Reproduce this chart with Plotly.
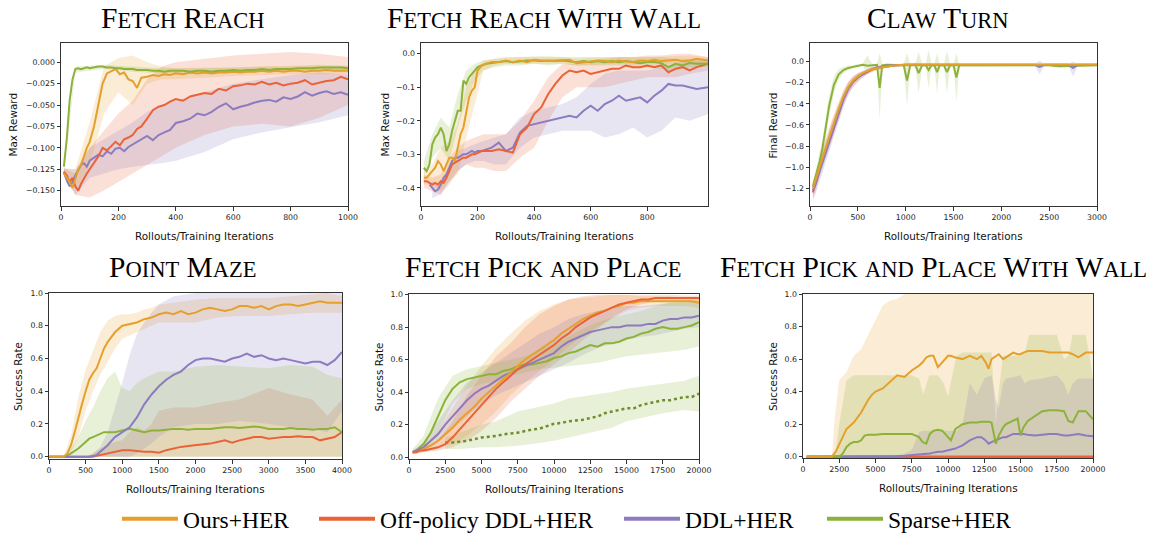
import plotly.graph_objects as go

W, H = 1152, 533
OURS = '#E5A02B'
OFF = '#EB6236'
DDL = '#8D7BBF'
SPARSE = '#8CB23A'
DOTC = '#6E8E2E'

def rgba(hexc, a):
    h = hexc.lstrip('#')
    r, g, b = int(h[0:2], 16), int(h[2:4], 16), int(h[4:6], 16)
    return f'rgba({r},{g},{b},{a})'

# ---------------- titles / labels ----------------
titles = ["Fetch Reach", "Fetch Reach With Wall", "Claw Turn",
          "Point Maze", "Fetch Pick and Place", "Fetch Pick and Place With Wall"]
ylabels = ["Max Reward", "Max Reward", "Final Reward",
           "Success Rate", "Success Rate", "Success Rate"]
xlabel = "Rollouts/Training Iterations"
series_names = ["Ours+HER", "Off-policy DDL+HER", "DDL+HER", "Sparse+HER"]

# ---------------- 1: Fetch Reach ----------------
fr_x = [10, 20, 30, 40, 50, 60, 70, 80, 90, 100, 115, 130, 145, 160, 175, 190, 205, 220, 235, 250, 265, 280,
        300, 320, 340, 360, 380, 400, 425, 450, 475, 500, 525, 550, 575, 600, 625, 650, 675, 700, 725, 750,
        775, 800, 825, 850, 875, 900, 925, 950, 975, 1000]
fr_sparse = [-0.122, -0.090, -0.045, -0.020, -0.008, -0.007, -0.008, -0.007, -0.006, -0.007, -0.006, -0.005,
             -0.005, -0.006, -0.006, -0.007, -0.007, -0.008, -0.008, -0.008, -0.009, -0.009, -0.009, -0.010,
             -0.010, -0.011, -0.010, -0.010, -0.010, -0.011, -0.010, -0.010, -0.011, -0.010, -0.010, -0.009,
             -0.010, -0.009, -0.009, -0.008, -0.009, -0.008, -0.008, -0.008, -0.007, -0.007, -0.007, -0.006,
             -0.006, -0.006, -0.006, -0.007]
fr_ours = [-0.130, -0.135, -0.140, -0.147, -0.135, -0.125, -0.120, -0.110, -0.100, -0.093, -0.075, -0.050,
           -0.025, -0.013, -0.010, -0.008, -0.014, -0.012, -0.020, -0.022, -0.030, -0.018, -0.017, -0.015,
           -0.016, -0.014, -0.015, -0.013, -0.014, -0.012, -0.013, -0.012, -0.013, -0.012, -0.012, -0.011,
           -0.012, -0.011, -0.011, -0.010, -0.011, -0.010, -0.011, -0.010, -0.010, -0.011, -0.010, -0.010,
           -0.009, -0.010, -0.010, -0.010]
fr_off = [-0.128, -0.132, -0.140, -0.135, -0.145, -0.150, -0.142, -0.135, -0.130, -0.125, -0.118, -0.110,
          -0.100, -0.103, -0.098, -0.093, -0.097, -0.090, -0.088, -0.085, -0.078, -0.075, -0.066, -0.056,
          -0.052, -0.050, -0.046, -0.043, -0.045, -0.040, -0.038, -0.036, -0.037, -0.031, -0.033, -0.028,
          -0.027, -0.025, -0.026, -0.023, -0.026, -0.024, -0.027, -0.025, -0.024, -0.021, -0.026, -0.024,
          -0.022, -0.021, -0.017, -0.020]
fr_ddl = [-0.128, -0.138, -0.145, -0.140, -0.132, -0.125, -0.120, -0.118, -0.122, -0.115, -0.112, -0.108,
          -0.110, -0.104, -0.107, -0.101, -0.100, -0.104, -0.099, -0.096, -0.093, -0.090, -0.086, -0.091,
          -0.085, -0.082, -0.079, -0.071, -0.069, -0.066, -0.060, -0.062, -0.058, -0.052, -0.048, -0.055,
          -0.052, -0.050, -0.047, -0.045, -0.044, -0.046, -0.041, -0.043, -0.040, -0.035, -0.039, -0.036,
          -0.034, -0.037, -0.035, -0.038]
fr_bx = [10, 50, 100, 150, 200, 250, 300, 350, 400, 500, 600, 700, 800, 900, 1000]
fr_sparse_lo = [-0.130, -0.012, -0.010, -0.008, -0.009, -0.011, -0.012, -0.013, -0.013, -0.013, -0.012, -0.011, -0.010, -0.009, -0.009]
fr_sparse_hi = [-0.115, -0.005, -0.004, -0.003, -0.004, -0.005, -0.006, -0.007, -0.007, -0.007, -0.006, -0.005, -0.005, -0.004, -0.004]
fr_ours_lo = [-0.135, -0.150, -0.120, -0.060, -0.035, -0.050, -0.025, -0.020, -0.020, -0.018, -0.016, -0.015, -0.014, -0.014, -0.014]
fr_ours_hi = [-0.125, -0.125, -0.070, -0.005, 0.005, 0.008, 0.000, -0.005, -0.007, -0.006, -0.006, -0.005, -0.004, -0.003, -0.004]
fr_off_lo = [-0.132, -0.155, -0.158, -0.150, -0.140, -0.130, -0.120, -0.110, -0.100, -0.085, -0.075, -0.072, -0.075, -0.065, -0.050]
fr_off_hi = [-0.124, -0.130, -0.100, -0.080, -0.060, -0.045, -0.020, -0.005, 0.000, 0.004, 0.008, 0.010, 0.012, 0.010, 0.006]
fr_ddl_lo = [-0.132, -0.155, -0.135, -0.130, -0.125, -0.122, -0.120, -0.118, -0.115, -0.105, -0.090, -0.082, -0.076, -0.070, -0.062]
fr_ddl_hi = [-0.124, -0.125, -0.100, -0.090, -0.080, -0.070, -0.058, -0.050, -0.045, -0.035, -0.025, -0.020, -0.015, -0.012, -0.015]

# ---------------- 2: Fetch Reach With Wall ----------------
frw_x = [10, 20, 30, 40, 50, 60, 70, 80, 90, 100, 110, 120, 130, 140, 150, 160, 170, 180, 190, 200, 215, 230,
         250, 275, 300, 325, 350, 375, 400, 425, 450, 475, 500, 525, 550, 575, 600, 625, 650, 675, 700, 725,
         750, 775, 800, 825, 850, 875, 900, 925, 950, 975, 1015]
frw_ours = [-0.37, -0.37, -0.36, -0.35, -0.34, -0.32, -0.33, -0.35, -0.33, -0.31, -0.31, -0.32, -0.28, -0.24,
            -0.22, -0.17, -0.13, -0.11, -0.10, -0.05, -0.035, -0.03, -0.025, -0.025, -0.02, -0.025, -0.02,
            -0.025, -0.018, -0.02, -0.022, -0.02, -0.02, -0.018, -0.028, -0.025, -0.022, -0.02, -0.022, -0.025,
            -0.02, -0.022, -0.025, -0.02, -0.022, -0.018, -0.022, -0.02, -0.018, -0.022, -0.02, -0.015, -0.02]
frw_sparse = [-0.34, -0.35, -0.33, -0.27, -0.25, -0.24, -0.22, -0.24, -0.29, -0.27, -0.23, -0.20, -0.17, -0.17,
              -0.08, -0.09, -0.07, -0.06, -0.05, -0.04, -0.035, -0.03, -0.028, -0.025, -0.022, -0.025, -0.022,
              -0.02, -0.02, -0.022, -0.02, -0.022, -0.02, -0.022, -0.025, -0.022, -0.025, -0.022, -0.025,
              -0.022, -0.025, -0.022, -0.025, -0.028, -0.025, -0.025, -0.028, -0.04, -0.03, -0.035, -0.028,
              -0.03, -0.03]
frw_off = [-0.38, -0.38, -0.385, -0.39, -0.385, -0.39, -0.38, -0.385, -0.37, -0.35, -0.33, -0.325, -0.32,
           -0.315, -0.31, -0.31, -0.305, -0.30, -0.30, -0.295, -0.29, -0.29, -0.29, -0.285, -0.29, -0.295,
           -0.24, -0.22, -0.18, -0.16, -0.12, -0.09, -0.065, -0.05, -0.055, -0.05, -0.06, -0.055, -0.05,
           -0.045, -0.045, -0.035, -0.04, -0.04, -0.035, -0.04, -0.035, -0.055, -0.045, -0.04, -0.05, -0.04,
           -0.03]
frw_ddl = [None, None, -0.39, -0.40, -0.41, -0.405, -0.39, -0.37, -0.36, -0.34, -0.32, -0.31, -0.31, -0.305,
           -0.30, -0.30, -0.295, -0.29, -0.295, -0.29, -0.29, -0.285, -0.28, -0.265, -0.29, -0.28, -0.235,
           -0.215, -0.21, -0.205, -0.20, -0.195, -0.19, -0.185, -0.19, -0.17, -0.155, -0.17, -0.15, -0.14,
           -0.125, -0.14, -0.135, -0.13, -0.145, -0.125, -0.11, -0.09, -0.095, -0.095, -0.10, -0.105, -0.10]
frw_bx = [10, 40, 70, 100, 130, 160, 190, 220, 260, 300, 350, 400, 450, 500, 550, 600, 650, 700, 750, 800,
          850, 900, 950, 1015]
frw_sparse_lo = [-0.36, -0.31, -0.28, -0.32, -0.22, -0.14, -0.08, -0.05, -0.04, -0.035, -0.035, -0.03, -0.035,
                 -0.03, -0.035, -0.035, -0.035, -0.035, -0.04, -0.04, -0.045, -0.05, -0.04, -0.04]
frw_sparse_hi = [-0.32, -0.24, -0.19, -0.22, -0.12, -0.05, -0.03, -0.02, -0.015, -0.01, -0.01, -0.008, -0.008,
                 -0.01, -0.01, -0.012, -0.012, -0.012, -0.012, -0.012, -0.01, -0.015, -0.015, -0.015]
frw_ours_lo = [-0.39, -0.39, -0.41, -0.38, -0.36, -0.25, -0.15, -0.05, -0.035, -0.03, -0.03, -0.028, -0.03,
               -0.03, -0.035, -0.032, -0.032, -0.03, -0.032, -0.03, -0.03, -0.03, -0.028, -0.03]
frw_ours_hi = [-0.35, -0.33, -0.28, -0.26, -0.21, -0.10, -0.05, -0.02, -0.015, -0.012, -0.01, -0.008, -0.01,
               -0.01, -0.015, -0.012, -0.012, -0.01, -0.012, -0.01, -0.01, -0.008, -0.005, -0.01]
frw_off_lo = [-0.40, -0.41, -0.42, -0.39, -0.35, -0.33, -0.34, -0.34, -0.35, -0.35, -0.31, -0.28, -0.20, -0.13,
              -0.10, -0.10, -0.10, -0.09, -0.08, -0.07, -0.07, -0.07, -0.06, -0.05]
frw_off_hi = [-0.36, -0.37, -0.36, -0.31, -0.28, -0.26, -0.25, -0.24, -0.24, -0.24, -0.20, -0.14, -0.07, -0.03,
              -0.03, -0.02, -0.015, -0.01, -0.01, -0.005, -0.005, 0.0, 0.0, -0.01]
frw_ddl_bx = [40, 70, 100, 130, 160, 190, 220, 260, 300, 350, 400, 450, 500, 550, 600, 650, 700, 750, 800,
              850, 900, 950, 1015]
frw_ddl_lo = [-0.43, -0.42, -0.38, -0.35, -0.33, -0.32, -0.32, -0.33, -0.33, -0.28, -0.25, -0.24, -0.23, -0.23,
              -0.23, -0.25, -0.24, -0.22, -0.25, -0.23, -0.19, -0.20, -0.18]
frw_ddl_hi = [-0.38, -0.39, -0.33, -0.29, -0.28, -0.27, -0.26, -0.25, -0.24, -0.19, -0.17, -0.16, -0.15, -0.13,
              -0.09, -0.06, -0.05, -0.05, -0.05, -0.04, -0.03, -0.02, -0.02]

# ---------------- 3: Claw Turn ----------------
ct_x = [30, 60, 100, 150, 200, 250, 300, 350, 400, 450, 500, 550, 600, 650, 700, 800, 900, 1000, 1200, 1400,
        1600, 1800, 2000, 2200, 2350, 2400, 2450, 2600, 2700, 2750, 2800, 3000]
ct_ours = [-1.20, -1.12, -1.00, -0.86, -0.72, -0.58, -0.45, -0.33, -0.24, -0.18, -0.14, -0.11, -0.09, -0.07,
           -0.06, -0.045, -0.035, -0.03, -0.03, -0.03, -0.03, -0.03, -0.03, -0.03, -0.03, -0.03, -0.03, -0.03,
           -0.03, -0.03, -0.03, -0.03]
ct_off = [-1.24, -1.14, -1.02, -0.87, -0.73, -0.60, -0.47, -0.35, -0.25, -0.19, -0.15, -0.12, -0.095, -0.075,
          -0.06, -0.045, -0.035, -0.03, -0.03, -0.03, -0.03, -0.03, -0.03, -0.03, -0.03, -0.03, -0.03, -0.03,
          -0.03, -0.03, -0.03, -0.03]
ct_ddl = [-1.22, -1.16, -1.04, -0.90, -0.76, -0.62, -0.49, -0.36, -0.26, -0.19, -0.15, -0.12, -0.095, -0.07,
          -0.055, -0.04, -0.035, -0.03, -0.03, -0.03, -0.03, -0.03, -0.03, -0.03, -0.03, -0.05, -0.03, -0.03,
          -0.03, -0.06, -0.03, -0.03]
ct_ours_lo = [-1.26, -1.18, -1.07, -0.94, -0.80, -0.66, -0.52, -0.39, -0.29, -0.22, -0.17, -0.13, -0.11, -0.09,
              -0.075, -0.055, -0.045, -0.04, -0.04, -0.04, -0.04, -0.04, -0.04, -0.04, -0.04, -0.04, -0.04,
              -0.04, -0.04, -0.04, -0.04, -0.04]
ct_ours_hi = [-1.14, -1.06, -0.93, -0.78, -0.64, -0.50, -0.38, -0.27, -0.19, -0.14, -0.11, -0.09, -0.07, -0.055,
              -0.045, -0.035, -0.028, -0.022, -0.022, -0.022, -0.022, -0.022, -0.022, -0.022, -0.022, -0.022,
              -0.022, -0.022, -0.022, -0.022, -0.022, -0.022]
ct_off_lo = [-1.32, -1.22, -1.10, -0.96, -0.82, -0.68, -0.55, -0.42, -0.31, -0.24, -0.19, -0.15, -0.12, -0.10,
             -0.08, -0.06, -0.045, -0.04, -0.04, -0.04, -0.04, -0.04, -0.04, -0.04, -0.04, -0.04, -0.04, -0.04,
             -0.04, -0.04, -0.04, -0.04]
ct_off_hi = [-1.16, -1.06, -0.94, -0.78, -0.63, -0.50, -0.39, -0.28, -0.19, -0.14, -0.11, -0.09, -0.07, -0.055,
             -0.045, -0.035, -0.028, -0.022, -0.022, -0.022, -0.022, -0.022, -0.022, -0.022, -0.022, -0.022,
             -0.022, -0.022, -0.022, -0.022, -0.022, -0.022]
ct_ddl_lo = [-1.30, -1.25, -1.14, -1.00, -0.86, -0.71, -0.57, -0.43, -0.32, -0.24, -0.19, -0.15, -0.12, -0.09,
             -0.07, -0.05, -0.045, -0.04, -0.04, -0.04, -0.04, -0.04, -0.04, -0.04, -0.04, -0.12, -0.04, -0.04,
             -0.04, -0.14, -0.04, -0.04]
ct_ddl_hi = [-1.14, -1.07, -0.95, -0.80, -0.66, -0.53, -0.41, -0.29, -0.20, -0.14, -0.11, -0.09, -0.07, -0.05,
             -0.04, -0.03, -0.025, -0.022, -0.022, -0.022, -0.022, -0.022, -0.022, -0.022, -0.022, 0.01, -0.022,
             -0.022, -0.022, 0.0, -0.022, -0.022]
ct_gx = [30, 60, 100, 130, 160, 200, 250, 300, 350, 400, 450, 500, 550, 600, 650, 700, 728, 756, 800, 900,
         980, 1014, 1048, 1100, 1136, 1172, 1210, 1240, 1270, 1300, 1328, 1356, 1400, 1432, 1464, 1500, 1530,
         1560, 1700, 2000, 2500, 2600, 3000]
ct_sparse = [-1.18, -1.08, -0.95, -0.82, -0.66, -0.42, -0.22, -0.12, -0.08, -0.06, -0.05, -0.04, -0.03, -0.04,
             -0.035, -0.03, -0.25, -0.035, -0.03, -0.035, -0.035, -0.18, -0.035, -0.03, -0.11, -0.035, -0.035,
             -0.08, -0.035, -0.035, -0.10, -0.035, -0.035, -0.10, -0.035, -0.035, -0.15, -0.035, -0.035, -0.035,
             -0.035, -0.045, -0.035]
ct_sparse_lo = [-1.22, -1.14, -1.02, -0.90, -0.76, -0.52, -0.30, -0.17, -0.11, -0.08, -0.065, -0.055, -0.045,
                -0.10, -0.05, -0.045, -0.55, -0.05, -0.045, -0.05, -0.05, -0.42, -0.05, -0.045, -0.30, -0.05,
                -0.05, -0.25, -0.05, -0.05, -0.30, -0.05, -0.05, -0.30, -0.05, -0.05, -0.38, -0.05, -0.045,
                -0.045, -0.045, -0.055, -0.045]
ct_sparse_hi = [-1.14, -1.02, -0.88, -0.74, -0.56, -0.32, -0.14, -0.07, -0.05, -0.04, -0.035, -0.025, -0.02,
                0.06, -0.02, -0.02, 0.08, -0.02, -0.02, -0.02, -0.02, 0.08, -0.02, -0.02, 0.09, -0.02, -0.02,
                0.11, -0.02, -0.02, 0.08, -0.02, -0.02, 0.10, -0.02, -0.02, 0.08, -0.02, -0.025, -0.025, -0.025,
                -0.035, -0.025]

# ---------------- 4: Point Maze ----------------
pm_x = [0, 100, 200, 250, 300, 350, 400, 450, 500, 550, 600, 650, 700, 750, 800, 900, 1000, 1100, 1200, 1300,
        1400, 1500, 1600, 1700, 1800, 1900, 2000, 2100, 2200, 2300, 2400, 2500, 2600, 2700, 2800, 2900, 3000,
        3100, 3200, 3300, 3400, 3500, 3600, 3700, 3800, 3900, 4000]
pm_ours = [0, 0, 0, 0.02, 0.07, 0.15, 0.24, 0.32, 0.40, 0.47, 0.51, 0.54, 0.60, 0.66, 0.70, 0.76, 0.80, 0.81,
           0.82, 0.84, 0.85, 0.87, 0.88, 0.87, 0.89, 0.87, 0.88, 0.90, 0.91, 0.90, 0.89, 0.90, 0.92, 0.92, 0.91,
           0.92, 0.90, 0.92, 0.93, 0.93, 0.92, 0.93, 0.94, 0.95, 0.94, 0.94, 0.94]
pm_ddl = [0, 0, 0, 0, 0, 0, 0, 0, 0, 0, 0.005, 0.01, 0.03, 0.05, 0.07, 0.12, 0.15, 0.18, 0.24, 0.32, 0.38, 0.43,
          0.47, 0.50, 0.52, 0.56, 0.59, 0.60, 0.60, 0.59, 0.58, 0.60, 0.61, 0.63, 0.61, 0.62, 0.60, 0.59, 0.60,
          0.59, 0.58, 0.57, 0.58, 0.58, 0.56, 0.59, 0.64]
pm_sparse = [0, 0, 0, 0.005, 0.02, 0.03, 0.05, 0.07, 0.09, 0.11, 0.12, 0.13, 0.14, 0.15, 0.15, 0.15, 0.16,
             0.17, 0.16, 0.15, 0.16, 0.16, 0.165, 0.17, 0.17, 0.165, 0.17, 0.17, 0.17, 0.175, 0.18, 0.18, 0.175,
             0.18, 0.185, 0.18, 0.17, 0.17, 0.17, 0.175, 0.17, 0.17, 0.165, 0.17, 0.17, 0.18, 0.15]
pm_off = [0, 0, 0, 0, 0, 0, 0, 0, 0, 0, 0, 0.005, 0.01, 0.015, 0.02, 0.03, 0.04, 0.04, 0.035, 0.03, 0.03, 0.025,
          0.04, 0.05, 0.06, 0.065, 0.07, 0.075, 0.08, 0.09, 0.10, 0.085, 0.10, 0.11, 0.12, 0.12, 0.11, 0.115,
          0.12, 0.12, 0.125, 0.12, 0.12, 0.10, 0.11, 0.12, 0.15]
pm_bx = [0, 200, 300, 400, 500, 600, 700, 800, 900, 1000, 1100, 1200, 1300, 1400, 1500, 1700, 2000, 2300,
         2600, 3000, 3300, 3600, 3800, 4000]
pm_ours_lo = [0, 0, 0.02, 0.12, 0.28, 0.40, 0.50, 0.58, 0.66, 0.72, 0.74, 0.76, 0.78, 0.80, 0.82, 0.82, 0.82,
              0.85, 0.86, 0.86, 0.87, 0.88, 0.88, 0.88]
pm_ours_hi = [0, 0, 0.13, 0.36, 0.53, 0.65, 0.76, 0.83, 0.86, 0.87, 0.87, 0.88, 0.90, 0.91, 0.93, 0.94, 0.96,
              0.97, 0.97, 0.97, 0.98, 0.99, 1.0, 0.98]
pm_ddl_lo = [0, 0, 0, 0, 0, 0, 0, 0, 0, 0, 0, 0.02, 0.05, 0.08, 0.12, 0.18, 0.20, 0.20, 0.22, 0.20, 0.18, 0.17,
             0.15, 0.28]
pm_ddl_hi = [0, 0, 0, 0, 0, 0.02, 0.06, 0.15, 0.30, 0.45, 0.62, 0.75, 0.82, 0.88, 0.93, 0.98, 1.0, 1.0, 1.0,
             1.0, 1.0, 1.0, 1.0, 1.0]
pm_sparse_lo = [0, 0, 0, 0, 0, 0, 0, 0, 0, 0, 0, 0, 0, 0, 0, 0, 0, 0, 0, 0, 0, 0, 0, 0]
pm_sparse_hi = [0, 0, 0.05, 0.12, 0.22, 0.30, 0.40, 0.48, 0.52, 0.42, 0.40, 0.45, 0.48, 0.50, 0.52, 0.52, 0.55,
                0.56, 0.55, 0.54, 0.56, 0.55, 0.50, 0.48]
pm_off_lo = [0, 0, 0, 0, 0, 0, 0, 0, 0, 0, 0, 0, 0, 0, 0, 0, 0, 0, 0, 0, 0, 0, 0, 0]
pm_off_hi = [0, 0, 0, 0, 0, 0.02, 0.05, 0.07, 0.09, 0.10, 0.15, 0.18, 0.16, 0.20, 0.28, 0.30, 0.30, 0.33, 0.35,
             0.42, 0.38, 0.35, 0.25, 0.35]

# ---------------- 5: Fetch Pick and Place ----------------
fpp_x = [250, 500, 750, 1000, 1500, 2000, 2500, 3000, 3500, 4000, 4500, 5000, 5500, 6000, 6500, 7000, 7500,
         8000, 8500, 9000, 9500, 10000, 10500, 11000, 11500, 12000, 12500, 13000, 13500, 14000, 14500, 15000,
         15500, 16000, 16500, 17000, 17500, 18000, 18500, 19000, 19500, 20000]
fpp_sparse = [0.03, 0.04, 0.06, 0.08, 0.15, 0.25, 0.35, 0.42, 0.46, 0.48, 0.49, 0.50, 0.51, 0.51, 0.53, 0.54,
              0.56, 0.57, 0.57, 0.58, 0.59, 0.61, 0.62, 0.64, 0.65, 0.67, 0.69, 0.68, 0.70, 0.70, 0.71, 0.73,
              0.74, 0.76, 0.77, 0.79, 0.80, 0.79, 0.79, 0.80, 0.81, 0.83]
fpp_ours = [0.03, 0.03, 0.04, 0.05, 0.07, 0.10, 0.14, 0.18, 0.23, 0.27, 0.31, 0.36, 0.40, 0.44, 0.48, 0.52,
            0.56, 0.60, 0.63, 0.66, 0.69, 0.72, 0.76, 0.79, 0.82, 0.85, 0.87, 0.89, 0.90, 0.92, 0.93, 0.95,
            0.95, 0.96, 0.96, 0.96, 0.96, 0.96, 0.96, 0.96, 0.96, 0.95]
fpp_off = [0.03, 0.03, 0.04, 0.04, 0.05, 0.06, 0.08, 0.12, 0.17, 0.22, 0.27, 0.32, 0.37, 0.42, 0.46, 0.50,
           0.54, 0.57, 0.60, 0.63, 0.66, 0.69, 0.73, 0.76, 0.80, 0.83, 0.86, 0.88, 0.90, 0.92, 0.94, 0.95, 0.96,
           0.97, 0.97, 0.98, 0.98, 0.98, 0.98, 0.98, 0.98, 0.98]
fpp_ddl = [0.03, 0.04, 0.05, 0.06, 0.10, 0.14, 0.20, 0.25, 0.30, 0.35, 0.39, 0.42, 0.44, 0.47, 0.50, 0.52,
           0.54, 0.56, 0.58, 0.60, 0.62, 0.64, 0.68, 0.71, 0.73, 0.75, 0.77, 0.78, 0.79, 0.80, 0.80, 0.81, 0.81,
           0.81, 0.82, 0.82, 0.84, 0.85, 0.85, 0.86, 0.86, 0.87]
fpp_dx = [2500, 3000, 3500, 4000, 4500, 5000, 5500, 6000, 6500, 7000, 7500, 8000, 8500, 9000, 9500, 10000,
          10500, 11000, 11500, 12000, 12500, 13000, 13500, 14000, 14500, 15000, 15500, 16000, 16500, 17000,
          17500, 18000, 18500, 19000, 19500, 20000]
fpp_dotted = [0.09, 0.09, 0.095, 0.10, 0.11, 0.12, 0.125, 0.13, 0.14, 0.145, 0.15, 0.16, 0.17, 0.175, 0.19,
              0.205, 0.21, 0.22, 0.225, 0.23, 0.24, 0.25, 0.27, 0.28, 0.29, 0.30, 0.30, 0.32, 0.33, 0.34, 0.35,
              0.35, 0.36, 0.37, 0.37, 0.39]
fpp_bx = [250, 1000, 2000, 3000, 4000, 5000, 6000, 7000, 8000, 9000, 10000, 11000, 12000, 13000, 14000, 15000,
          16000, 17000, 18000, 19000, 20000]
fpp_sparse_lo = [0.02, 0.04, 0.15, 0.33, 0.42, 0.45, 0.47, 0.50, 0.52, 0.54, 0.55, 0.56, 0.57, 0.58, 0.60, 0.62,
                 0.63, 0.64, 0.65, 0.66, 0.68]
fpp_sparse_hi = [0.05, 0.13, 0.36, 0.50, 0.54, 0.56, 0.58, 0.60, 0.62, 0.66, 0.70, 0.74, 0.79, 0.83, 0.86, 0.88,
                 0.90, 0.93, 0.95, 0.96, 0.97]
fpp_ours_lo = [0.02, 0.03, 0.05, 0.08, 0.13, 0.20, 0.28, 0.38, 0.46, 0.53, 0.60, 0.68, 0.75, 0.80, 0.85, 0.90,
               0.92, 0.93, 0.93, 0.93, 0.92]
fpp_ours_hi = [0.04, 0.07, 0.16, 0.30, 0.44, 0.56, 0.67, 0.76, 0.84, 0.90, 0.94, 0.97, 0.98, 0.99, 1.0, 1.0,
               0.99, 0.99, 0.99, 0.98, 0.98]
fpp_off_lo = [0.02, 0.03, 0.04, 0.06, 0.10, 0.16, 0.24, 0.34, 0.42, 0.50, 0.57, 0.64, 0.72, 0.79, 0.86, 0.91,
              0.94, 0.96, 0.96, 0.96, 0.96]
fpp_off_hi = [0.04, 0.06, 0.10, 0.22, 0.38, 0.50, 0.62, 0.70, 0.80, 0.88, 0.93, 0.97, 0.99, 1.0, 1.0, 1.0, 1.0,
              1.0, 1.0, 0.995, 0.995]
fpp_ddl_lo = [0.02, 0.04, 0.09, 0.17, 0.25, 0.33, 0.38, 0.42, 0.46, 0.50, 0.54, 0.58, 0.63, 0.67, 0.70, 0.72,
              0.74, 0.75, 0.77, 0.79, 0.80]
fpp_ddl_hi = [0.04, 0.09, 0.22, 0.35, 0.46, 0.52, 0.58, 0.64, 0.70, 0.76, 0.80, 0.85, 0.88, 0.90, 0.92, 0.93,
              0.93, 0.94, 0.95, 0.95, 0.96]
fpp_dbx = [2500, 3500, 5000, 6000, 7500, 8500, 10000, 11000, 12500, 14000, 15000, 16500, 17500, 19000, 20000]
fpp_dotted_lo = [0.05, 0.05, 0.06, 0.06, 0.07, 0.08, 0.10, 0.12, 0.15, 0.18, 0.22, 0.25, 0.27, 0.29, 0.28]
fpp_dotted_hi = [0.12, 0.15, 0.20, 0.22, 0.28, 0.30, 0.33, 0.36, 0.38, 0.40, 0.42, 0.44, 0.45, 0.47, 0.50]

# ---------------- 6: Fetch Pick and Place With Wall ----------------
fw_x = [250, 1000, 2000, 2250, 2500, 2750, 3000, 3250, 3500, 3750, 4000, 4250, 4500, 4750, 5000, 5500, 6000,
        6500, 7000, 7500, 8000, 8250, 8500, 8750, 9000, 9300, 9600, 10000, 10200, 10500, 11000, 11500, 12000,
        12300, 12600, 12800, 13000, 13300, 13500, 13800, 14000, 14500, 14800, 15000, 15200, 15500, 16000,
        16500, 17000, 17500, 18000, 18300, 18600, 19000, 19500, 20000]
fw_ours = [0, 0, 0, 0.03, 0.08, 0.13, 0.17, 0.19, 0.21, 0.24, 0.27, 0.31, 0.35, 0.38, 0.40, 0.42, 0.46, 0.50,
           0.49, 0.53, 0.56, 0.58, 0.61, 0.62, 0.62, 0.55, 0.58, 0.62, 0.62, 0.61, 0.60, 0.62, 0.60, 0.62, 0.58,
           0.54, 0.60, 0.62, 0.63, 0.60, 0.61, 0.64, 0.63, 0.63, 0.64, 0.65, 0.65, 0.65, 0.64, 0.64, 0.64, 0.64,
           0.63, 0.61, 0.64, 0.64]
fw_sparse = [0, 0, 0, 0, 0, 0.02, 0.06, 0.08, 0.09, 0.09, 0.10, 0.13, 0.135, 0.135, 0.135, 0.14, 0.14, 0.14,
             0.14, 0.14, 0.12, 0.09, 0.08, 0.14, 0.16, 0.165, 0.16, 0.12, 0.10, 0.17, 0.20, 0.21, 0.21, 0.215,
             0.215, 0.215, 0.21, 0.08, 0.13, 0.18, 0.20, 0.22, 0.235, 0.13, 0.18, 0.22, 0.25, 0.28, 0.285, 0.285,
             0.28, 0.22, 0.21, 0.28, 0.28, 0.23]
fw_ddl = [0, 0, 0, 0, 0, 0, 0, 0, 0, 0, 0, 0, 0, 0, 0, 0, 0.002, 0.004, 0.006, 0.01, 0.012, 0.015, 0.018,
          0.02, 0.025, 0.03, 0.03, 0.04, 0.045, 0.05, 0.07, 0.10, 0.12, 0.12, 0.10, 0.08, 0.09, 0.10, 0.11,
          0.12, 0.12, 0.14, 0.14, 0.14, 0.14, 0.135, 0.13, 0.135, 0.14, 0.14, 0.13, 0.13, 0.135, 0.14, 0.13,
          0.125]
fw_off = [0, 0, 0, 0, 0, 0, 0, 0, 0, 0, 0, 0, 0, 0, 0, 0, 0, 0, 0, 0, 0, 0, 0, 0, 0, 0, 0, 0, 0, 0, 0, 0, 0,
          0, 0, 0, 0, 0, 0, 0, 0, 0, 0, 0, 0, 0, 0, 0, 0, 0, 0, 0, 0, 0, 0, 0]
fw_bx = [250, 2000, 2200, 2500, 3000, 3500, 4000, 4500, 5000, 5500, 6000, 6500, 7000, 7500, 8000, 8300, 8700,
         9300, 9700, 10000, 10300, 10600, 11000, 11500, 12000, 12500, 13000, 13300, 13500, 13800, 14000, 15000,
         15300, 15600, 16500, 17500, 18000, 18300, 18600, 19000, 19500, 20000]
fw_ours_lo = [0, 0, 0, 0, 0, 0, 0, 0, 0, 0, 0, 0, 0, 0, 0, 0, 0, 0, 0, 0, 0, 0, 0, 0, 0, 0, 0, 0, 0, 0, 0, 0,
              0, 0, 0, 0, 0, 0, 0, 0, 0, 0]
fw_ours_hi = [0, 0, 0.25, 0.47, 0.52, 0.62, 0.66, 0.75, 0.85, 0.93, 0.96, 0.97, 1.0, 1.0, 1.0, 1.0, 1.0, 1.0,
              1.0, 1.0, 1.0, 1.0, 1.0, 1.0, 1.0, 1.0, 1.0, 1.0, 1.0, 1.0, 1.0, 1.0, 1.0, 1.0, 1.0, 1.0, 1.0,
              1.0, 1.0, 1.0, 1.0, 1.0]
fw_sparse_lo = [0, 0, 0, 0, 0, 0, 0, 0, 0, 0, 0, 0, 0, 0, 0, 0, 0, 0, 0, 0, 0, 0, 0, 0, 0, 0, 0, 0, 0, 0, 0, 0,
                0, 0, 0, 0, 0, 0, 0, 0, 0, 0]
fw_sparse_hi = [0, 0, 0, 0.20, 0.47, 0.50, 0.50, 0.50, 0.50, 0.50, 0.50, 0.50, 0.50, 0.50, 0.48, 0.38, 0.50,
                0.50, 0.45, 0.37, 0.50, 0.62, 0.64, 0.64, 0.64, 0.64, 0.64, 0.20, 0.40, 0.62, 0.62, 0.62, 0.64,
                0.75, 0.75, 0.75, 0.60, 0.62, 0.75, 0.75, 0.75, 0.48]
fw_ddl_lo = [0, 0, 0, 0, 0, 0, 0, 0, 0, 0, 0, 0, 0, 0, 0, 0, 0, 0, 0, 0, 0, 0, 0, 0, 0, 0, 0, 0, 0, 0, 0, 0,
             0, 0, 0, 0, 0, 0, 0, 0, 0, 0]
fw_ddl_hi = [0, 0, 0, 0, 0, 0, 0, 0, 0, 0, 0.005, 0.01, 0.02, 0.04, 0.15, 0.16, 0.16, 0.16, 0.16, 0.16, 0.16,
             0.16, 0.20, 0.45, 0.38, 0.48, 0.50, 0.35, 0.30, 0.45, 0.48, 0.50, 0.45, 0.47, 0.48, 0.50, 0.45,
             0.38, 0.45, 0.48, 0.48, 0.48]

# ---------------- axis setup ----------------
x_ranges = [[0, 1000], [0, 1015], [0, 3000], [0, 4000], [0, 20000], [0, 20000]]
y_ranges = [[-0.168, 0.0225], [-0.454, 0.032], [-1.367, 0.176], [-0.014, 1.0], [-0.012, 1.004], [-0.008, 1.0]]
x_ticks = [[0, 200, 400, 600, 800, 1000], [0, 200, 400, 600, 800], [0, 500, 1000, 1500, 2000, 2500, 3000],
           [0, 500, 1000, 1500, 2000, 2500, 3000, 3500, 4000],
           [0, 2500, 5000, 7500, 10000, 12500, 15000, 17500, 20000],
           [0, 2500, 5000, 7500, 10000, 12500, 15000, 17500, 20000]]
y_ticks = [[-0.150, -0.125, -0.100, -0.075, -0.050, -0.025, 0.000], [-0.4, -0.3, -0.2, -0.1, 0.0],
           [-1.2, -1.0, -0.8, -0.6, -0.4, -0.2, 0.0], [0, 0.2, 0.4, 0.6, 0.8, 1.0],
           [0, 0.2, 0.4, 0.6, 0.8, 1.0], [0, 0.2, 0.4, 0.6, 0.8, 1.0]]
y_formats = ['.3f', '.1f', '.1f', '.1f', '.1f', '.1f']

# pixel boxes (left, right, top, bottom) of each plotting area
boxes = [(61, 348, 43, 206), (421, 708, 43, 206), (810, 1097, 43, 206),
         (49, 342, 293, 459), (409, 699, 294, 459), (803, 1093, 294, 458)]
title_pos = [(182, 18.5), (544, 18.5), (938, 18.5), (183, 266.5), (543, 266.5), (933, 266.5)]
ylabel_x = [13, 385, 773, 18, 378, 773]

fig = go.Figure()


def ax(i):
    return ('x' if i == 1 else f'x{i}'), ('y' if i == 1 else f'y{i}')


def add_band(i, x, lo, hi, color, alpha=0.2):
    xa, ya = ax(i)
    fig.add_trace(go.Scatter(x=list(x) + list(x)[::-1], y=list(hi) + list(lo)[::-1], fill='toself',
                             fillcolor=rgba(color, alpha), line=dict(width=0), mode='lines',
                             hoverinfo='skip', showlegend=False, xaxis=xa, yaxis=ya))


def add_line(i, x, y, color, dash='solid', width=2):
    xa, ya = ax(i)
    fig.add_trace(go.Scatter(x=x, y=y, mode='lines', line=dict(color=color, width=width, dash=dash),
                             showlegend=False, xaxis=xa, yaxis=ya))


# 1
add_band(1, fr_bx, fr_off_lo, fr_off_hi, OFF)
add_band(1, fr_bx, fr_ddl_lo, fr_ddl_hi, DDL)
add_band(1, fr_bx, fr_ours_lo, fr_ours_hi, OURS)
add_band(1, fr_bx, fr_sparse_lo, fr_sparse_hi, SPARSE)
add_line(1, fr_x, fr_ddl, DDL)
add_line(1, fr_x, fr_off, OFF)
add_line(1, fr_x, fr_ours, OURS)
add_line(1, fr_x, fr_sparse, SPARSE)
# 2
add_band(2, frw_bx, frw_off_lo, frw_off_hi, OFF)
add_band(2, frw_ddl_bx, frw_ddl_lo, frw_ddl_hi, DDL)
add_band(2, frw_bx, frw_sparse_lo, frw_sparse_hi, SPARSE)
add_band(2, frw_bx, frw_ours_lo, frw_ours_hi, OURS)
add_line(2, frw_x, frw_ddl, DDL)
add_line(2, frw_x, frw_off, OFF)
add_line(2, frw_x, frw_sparse, SPARSE)
add_line(2, frw_x, frw_ours, OURS)
# 3
add_band(3, ct_gx, ct_sparse_lo, ct_sparse_hi, SPARSE)
add_band(3, ct_x, ct_off_lo, ct_off_hi, OFF)
add_band(3, ct_x, ct_ddl_lo, ct_ddl_hi, DDL)
add_band(3, ct_x, ct_ours_lo, ct_ours_hi, OURS)
add_line(3, ct_gx, ct_sparse, SPARSE)
add_line(3, ct_x, ct_off, OFF)
add_line(3, ct_x, ct_ddl, DDL)
add_line(3, ct_x, ct_ours, OURS)
# 4
add_band(4, pm_bx, pm_ours_lo, pm_ours_hi, OURS)
add_band(4, pm_bx, pm_off_lo, pm_off_hi, OFF)
add_band(4, pm_bx, pm_ddl_lo, pm_ddl_hi, DDL)
add_band(4, pm_bx, pm_sparse_lo, pm_sparse_hi, SPARSE)
add_line(4, pm_x, pm_off, OFF)
add_line(4, pm_x, pm_sparse, SPARSE)
add_line(4, pm_x, pm_ddl, DDL)
add_line(4, pm_x, pm_ours, OURS)
# 5
add_band(5, fpp_bx, fpp_ours_lo, fpp_ours_hi, OURS)
add_band(5, fpp_bx, fpp_off_lo, fpp_off_hi, OFF)
add_band(5, fpp_bx, fpp_ddl_lo, fpp_ddl_hi, DDL)
add_band(5, fpp_bx, fpp_sparse_lo, fpp_sparse_hi, SPARSE)
add_band(5, fpp_dbx, fpp_dotted_lo, fpp_dotted_hi, SPARSE)
add_line(5, fpp_dx, fpp_dotted, DOTC, dash='dot', width=2.5)
add_line(5, fpp_x, fpp_sparse, SPARSE)
add_line(5, fpp_x, fpp_ddl, DDL)
add_line(5, fpp_x, fpp_ours, OURS)
add_line(5, fpp_x, fpp_off, OFF)
# 6
add_band(6, fw_bx, fw_ours_lo, fw_ours_hi, OURS)
add_band(6, fw_bx, fw_sparse_lo, fw_sparse_hi, SPARSE)
add_band(6, fw_bx, fw_ddl_lo, fw_ddl_hi, DDL)
add_line(6, fw_x, fw_off, OFF, width=2.5)
add_line(6, fw_x, fw_ddl, DDL)
add_line(6, fw_x, fw_sparse, SPARSE)
add_line(6, fw_x, fw_ours, OURS)

# legend entries (one legend per item, laid out like the reference)
legend_colors = [OURS, OFF, DDL, SPARSE]
legend_left_px = [117, 314, 619, 822]
layout_legends = {}
for k, (name, col) in enumerate(zip(series_names, legend_colors)):
    lname = 'legend' if k == 0 else f'legend{k + 1}'
    fig.add_trace(go.Scatter(x=[None], y=[None], mode='lines', name=name,
                             line=dict(color=col, width=4), legend=lname, showlegend=True))
    layout_legends[lname] = dict(x=legend_left_px[k] / W, xanchor='left', y=1 - 519 / H, yanchor='middle',
                                 orientation='h', bgcolor='rgba(0,0,0,0)', borderwidth=0,
                                 itemwidth=56, font=dict(family='Liberation Serif', size=23.5, color='#000'))

TICKFONT = dict(family='DejaVu Sans', size=7.8, color='#222')
LABELFONT = dict(family='DejaVu Sans', size=10.4, color='#111')

layout = dict(width=W, height=H, margin=dict(l=0, r=0, t=0, b=0, autoexpand=False), paper_bgcolor='white',
              plot_bgcolor='white', showlegend=True)
layout.update(layout_legends)


def small_caps(text, small=22.5):
    words = []
    for w in text.split(' '):
        if w.islower():
            words.append(f"<span style='font-size:{small}px'>{w.upper()}</span>")
        else:
            rest = w[1:].upper()
            words.append(w[0] + (f"<span style='font-size:{small}px'>{rest}</span>" if rest else ''))
    return ' '.join(words)


annotations = []
for i in range(1, 7):
    l, r, t, b = boxes[i - 1]
    xn = 'xaxis' if i == 1 else f'xaxis{i}'
    yn = 'yaxis' if i == 1 else f'yaxis{i}'
    xa, ya = ax(i)
    common = dict(showline=True, mirror=True, linecolor='#333', linewidth=1, ticks='outside', ticklen=3.5,
                  tickwidth=1, tickcolor='#333', showgrid=False, zeroline=False, tickfont=TICKFONT)
    layout[xn] = dict(domain=[l / W, r / W], range=x_ranges[i - 1], tickmode='array', tickvals=x_ticks[i - 1],
                      tickformat='d', anchor=ya, **common)
    layout[yn] = dict(domain=[1 - b / H, 1 - t / H], range=y_ranges[i - 1], tickmode='array',
                      tickvals=y_ticks[i - 1], tickformat=y_formats[i - 1], anchor=xa, **common)
    tx, ty = title_pos[i - 1]
    annotations.append(dict(text=small_caps(titles[i - 1]), x=tx / W, y=1 - ty / H, xref='paper', yref='paper',
                            xanchor='center', yanchor='middle', showarrow=False,
                            font=dict(family='Liberation Serif', size=29.5, color='#000')))
    annotations.append(dict(text=xlabel, x=(l + r) / 2 / W, y=1 - (b + 29.5) / H, xref='paper', yref='paper',
                            xanchor='center', yanchor='middle', showarrow=False, font=LABELFONT))
    annotations.append(dict(text=ylabels[i - 1], x=ylabel_x[i - 1] / W, y=1 - ((t + b) / 2 + 1) / H,
                            xref='paper', yref='paper', xanchor='center', yanchor='middle', textangle=-90,
                            showarrow=False, font=LABELFONT))
layout['annotations'] = annotations

fig.update_layout(**layout)
# the page's default body margin would shift the 1152x533 figure; remove it so it fills the window exactly
fig.write_html("out.html", config={'displayModeBar': False},
               post_script="document.body.style.margin='0';")
